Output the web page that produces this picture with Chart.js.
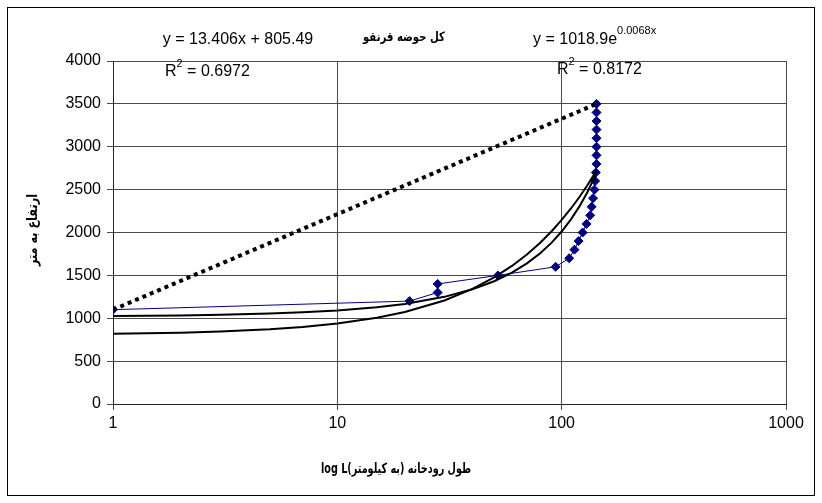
<!DOCTYPE html>
<html><head><meta charset="utf-8">
<script src="https://cdn.jsdelivr.net/npm/chart.js@4"></script>
<style>html,body{margin:0;padding:0;background:#fff}#wrap{width:822px;height:503px}</style>
</head><body><div id="wrap"><canvas id="c" width="822" height="503"></canvas></div>
<script>
// ---- data ----
const lengthKm  = [1, 21, 28, 28, 52, 94, 108, 114, 119, 124, 129, 134, 136, 138, 140, 141, 142, 143, 143, 143, 143, 143, 143, 143, 143];
const elevation = [1100, 1200, 1300, 1400, 1500, 1600, 1700, 1800, 1900, 2000, 2100, 2200, 2300, 2400, 2500, 2600, 2700, 2800, 2900, 3000, 3100, 3200, 3300, 3400, 3500];
const chordX = [1, 143];
const chordY = [1100, 3500];
// trend lines as shown by the equations on the chart (values at sample lengths)
const trendX  = [1, 2, 3, 5, 7, 10, 15, 20, 30, 40, 50, 60, 70, 80, 90, 100, 110, 120, 130, 143];
const linearY = [818.9, 832.3, 845.7, 872.5, 899.3, 939.6, 1006.6, 1073.6, 1207.7, 1341.7, 1475.8, 1609.9, 1743.9, 1878.0, 2012.0, 2146.1, 2280.2, 2414.2, 2548.3, 2722.5];
const expY    = [1025.9, 1032.9, 1039.9, 1054.1, 1068.6, 1090.6, 1128.3, 1167.3, 1249.5, 1337.4, 1431.5, 1532.2, 1640.1, 1755.5, 1879.0, 2011.2, 2152.7, 2304.2, 2466.3, 2694.2];
const xTicks = [1, 10, 100, 1000];
const yTicks = [0, 500, 1000, 1500, 2000, 2500, 3000, 3500, 4000];
const chartTitle = 'کل حوضه قرنقو';
const xTitle = 'طول رودخانه (به کیلومتر)log L';
const yTitle = 'ارتفاع به متر';
const linEq = 'y = 13.406x + 805.49';
const linR2 = ' = 0.6972';
const expEqBase = 'y = 1018.9e';
const expEqPow = '0.0068x';
const expR2 = ' = 0.8172';

const pts = (xs, ys) => xs.map((x, i) => ({x: x, y: ys[i]}));
const FONT = "'Liberation Sans', Arial, sans-serif";
const AFONT = "'DejaVu Sans', sans-serif";

const textPlugin = {
  id: 'texts',
  afterDraw(chart) {
    const ctx = chart.ctx;
    ctx.save();
    // outer frame
    ctx.strokeStyle = '#000'; ctx.lineWidth = 1;
    ctx.strokeRect(7.5, 7.5, 807, 488);
    ctx.fillStyle = '#000';
    ctx.textBaseline = 'middle';
    // linear equation
    ctx.font = '16px ' + FONT; ctx.textAlign = 'center';
    ctx.fillText(linEq, 238, 40);
    const drawR2 = (x, y, rest) => {
      ctx.textAlign = 'left';
      ctx.font = '16px ' + FONT;
      ctx.fillText('R', x, y);
      const w = ctx.measureText('R').width;
      ctx.font = '11px ' + FONT;
      ctx.fillText('2', x + w, y - 8);
      const w2 = ctx.measureText('2').width;
      ctx.font = '16px ' + FONT;
      ctx.fillText(rest, x + w + w2, y);
    };
    drawR2(165, 72, linR2);
    drawR2(557, 70, expR2);
    // exp equation with superscript
    ctx.textAlign = 'left'; ctx.font = '16px ' + FONT;
    ctx.fillText(expEqBase, 533, 40);
    const wb = ctx.measureText(expEqBase).width;
    ctx.font = '11px ' + FONT;
    ctx.fillText(expEqPow, 533 + wb, 31);
    // Persian texts, fitted to the widths seen in the reference
    const drawFit = (text, cx, cy, targetW, size, rot) => {
      ctx.save();
      ctx.direction = 'rtl';
      ctx.textAlign = 'center';
      ctx.font = 'bold ' + size + 'px ' + AFONT;
      const w = ctx.measureText(text).width;
      ctx.translate(cx, cy);
      if (rot) ctx.rotate(rot);
      ctx.scale(Math.min(1, targetW / w), 1);
      ctx.fillText(text, 0, 0);
      ctx.restore();
    };
    drawFit(chartTitle, 404, 38, 82, 13, 0);
    drawFit(xTitle, 396, 469, 150, 14, 0);
    drawFit(yTitle, 33, 230, 72, 14, -Math.PI / 2);
    ctx.restore();
  }
};

new Chart(document.getElementById('c'), {
  type: 'scatter',
  data: {
    datasets: [
      {data: pts(trendX, linearY), showLine: true, borderColor: '#000', borderWidth: 2, pointRadius: 0, order: 1},
      {data: pts(trendX, expY), showLine: true, borderColor: '#000', borderWidth: 2, pointRadius: 0, order: 2},
      {data: pts(chordX, chordY), showLine: true, borderColor: '#000', borderWidth: 4, borderDash: [4, 4], borderCapStyle: 'butt', pointRadius: 0, order: 3},
      {data: pts(lengthKm, elevation), showLine: true, borderColor: '#000080', borderWidth: 1, pointStyle: 'rectRot', pointRadius: 4.5, pointBackgroundColor: '#000080', pointBorderColor: '#000080', order: 4}
    ]
  },
  options: {
    responsive: false, animation: false, devicePixelRatio: 1,
    layout: {padding: {top: 61, right: 36, left: 0, bottom: 0}},
    plugins: {legend: {display: false}, tooltip: {enabled: false}},
    scales: {
      x: {
        type: 'logarithmic', min: 1, max: 1000,
        afterBuildTicks: s => { s.ticks = xTicks.map(v => ({value: v})); },
        afterFit: s => { s.height = 99; },
        ticks: {callback: v => String(v), font: {size: 16, family: FONT}, color: '#000', padding: 4, maxRotation: 0, autoSkip: false},
        grid: {color: '#4a4a4a', tickLength: 6},
        border: {color: '#222'}
      },
      y: {
        min: 0, max: 4000,
        afterBuildTicks: s => { s.ticks = yTicks.map(v => ({value: v})); },
        afterFit: s => { s.width = 113; },
        ticks: {callback: v => String(v), font: {size: 16, family: FONT}, color: '#000', padding: 6},
        grid: {color: '#4a4a4a', tickLength: 6},
        border: {color: '#222'}
      }
    }
  },
  plugins: [textPlugin]
});
</script></body></html>
